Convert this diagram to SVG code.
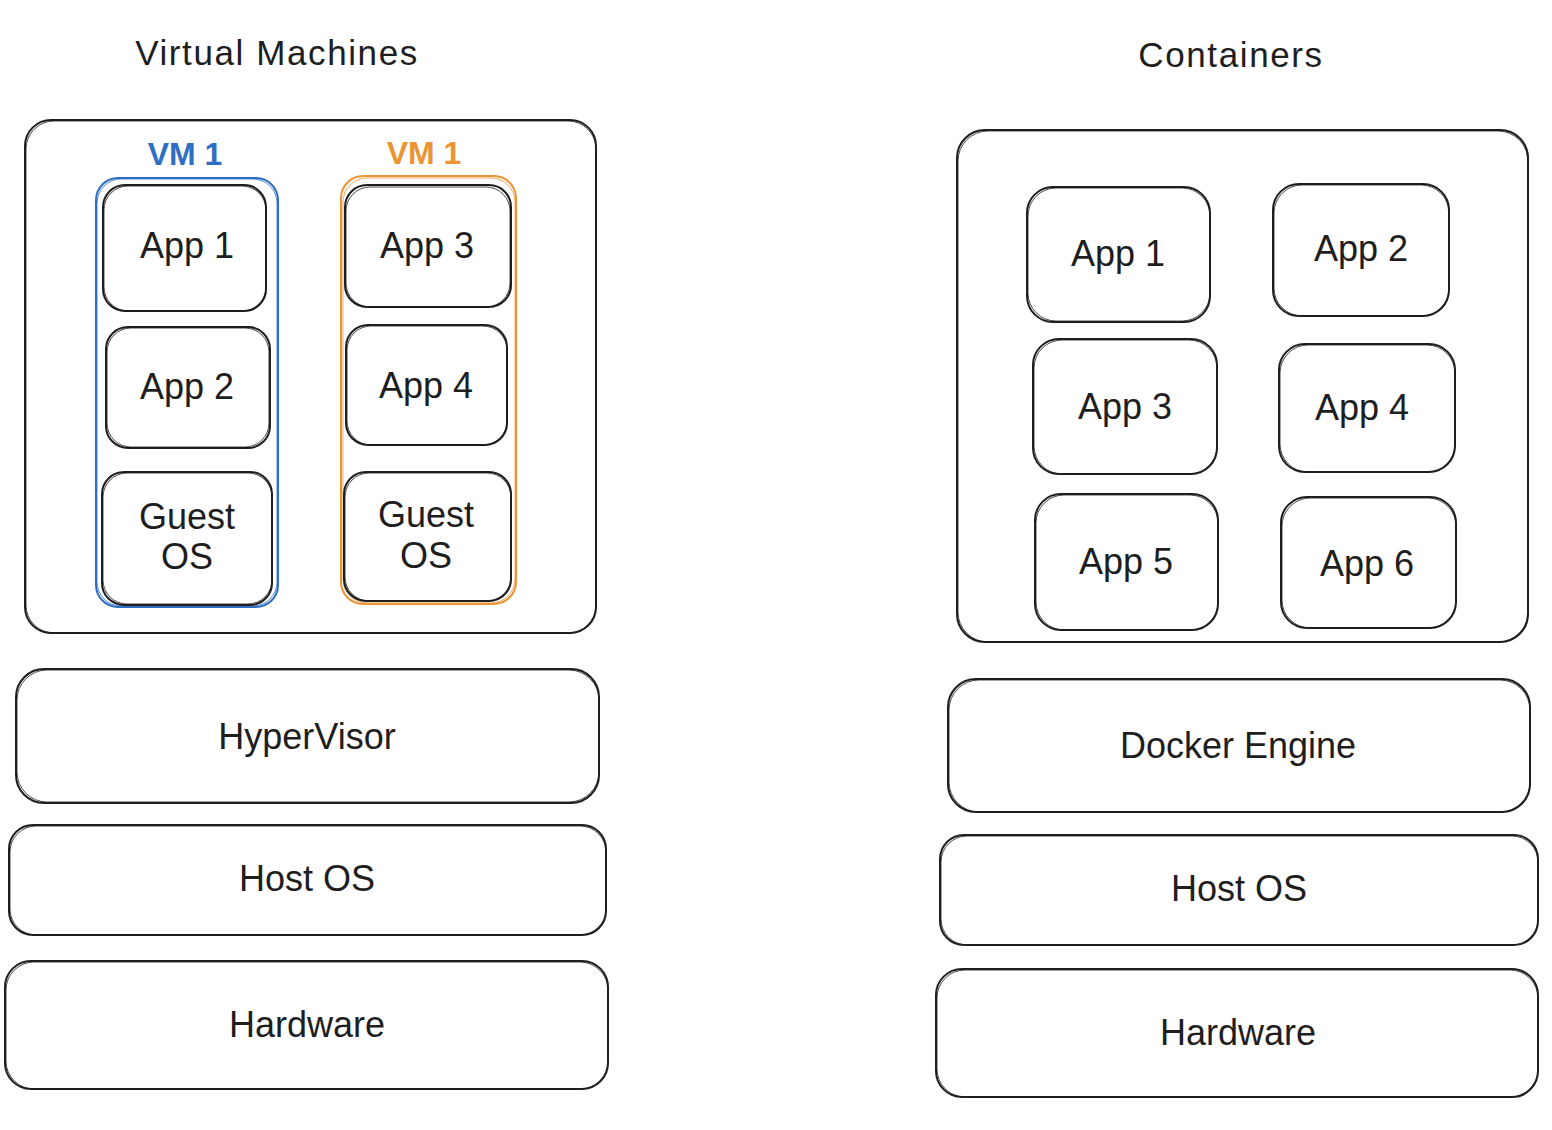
<svg xmlns="http://www.w3.org/2000/svg" width="1552" height="1130" viewBox="0 0 1552 1130">
<style>
.b{fill:none;stroke:#1e1e1e;stroke-width:2;stroke-linejoin:round}
.s{fill:none;stroke:#1e1e1e;stroke-width:1;opacity:.8}
.bl{fill:none;stroke:#2f6fc3;stroke-width:2}
.bls{fill:none;stroke:#2f6fc3;stroke-width:1;opacity:.8}
.or{fill:none;stroke:#ea9434;stroke-width:2}
.ors{fill:none;stroke:#ea9434;stroke-width:1;opacity:.8}
text{font-family:"Liberation Sans",Arial,sans-serif;fill:#1e1e1e;text-anchor:middle;dominant-baseline:central}
.t{font-size:36px}
.h{font-size:35px;letter-spacing:1.6px}
.vb{font-size:32px;fill:#2f6fc3;font-weight:bold}
.vo{font-size:32px;fill:#ea9434;font-weight:bold}
</style>
<rect width="1552" height="1130" fill="#ffffff"/>

<g id="vm-title"><text class="h" x="277" y="52">Virtual Machines</text></g>
<g id="ct-title"><text class="h" x="1231" y="54">Containers</text></g>

<g id="vm-outer"><rect class="b" x="25" y="120" width="571" height="513" rx="26"/><rect class="s" x="26" y="121" width="570" height="512" rx="28"/></g>

<g id="vm1-blue">
<text class="vb" x="185" y="154">VM 1</text>
<rect class="bl" x="96" y="178" width="182" height="429" rx="22"/>
<rect class="bls" x="97" y="179" width="180" height="427" rx="24"/>
</g>
<g id="vm1-orange">
<text class="vo" x="424" y="153">VM 1</text>
<rect class="or" x="341" y="176" width="175" height="428" rx="22"/>
<rect class="ors" x="343" y="178" width="172" height="425" rx="24"/>
</g>

<g id="vm-app1"><rect class="b" x="103" y="185" width="163" height="126" rx="22"/><rect class="s" x="104" y="186" width="162" height="125" rx="24"/><text class="t" x="187" y="245">App 1</text></g>
<g id="vm-app2"><rect class="b" x="106" y="327" width="164" height="121" rx="22"/><rect class="s" x="107" y="328" width="162" height="119" rx="24"/><text class="t" x="187" y="386">App 2</text></g>
<g id="vm-guest1"><rect class="b" x="102" y="472" width="170" height="133" rx="22"/><rect class="s" x="103" y="473" width="169" height="131" rx="24"/><text class="t" x="187" y="516">Guest</text><text class="t" x="187" y="556">OS</text></g>

<g id="vm-app3"><rect class="b" x="345" y="185" width="166" height="122" rx="22"/><rect class="s" x="346" y="187" width="164" height="120" rx="24"/><text class="t" x="427" y="245">App 3</text></g>
<g id="vm-app4"><rect class="b" x="346" y="325" width="161" height="120" rx="22"/><rect class="s" x="347" y="326" width="160" height="119" rx="24"/><text class="t" x="426" y="385">App 4</text></g>
<g id="vm-guest2"><rect class="b" x="344" y="472" width="167" height="129" rx="22"/><rect class="s" x="345" y="473" width="166" height="128" rx="24"/><text class="t" x="426" y="514">Guest</text><text class="t" x="426" y="555">OS</text></g>

<g id="hypervisor"><rect class="b" x="16" y="669" width="583" height="134" rx="28"/><rect class="s" x="17" y="670" width="582" height="132" rx="30"/><text class="t" x="307" y="736">HyperVisor</text></g>
<g id="vm-hostos"><rect class="b" x="9" y="825" width="597" height="110" rx="24"/><rect class="s" x="10" y="826" width="596" height="109" rx="26"/><text class="t" x="307" y="878">Host OS</text></g>
<g id="vm-hardware"><rect class="b" x="5" y="961" width="603" height="128" rx="26"/><rect class="s" x="6" y="962" width="602" height="127" rx="28"/><text class="t" x="307" y="1024">Hardware</text></g>

<g id="ct-outer"><rect class="b" x="957" y="130" width="571" height="512" rx="28"/><rect class="s" x="958" y="131" width="570" height="511" rx="30"/></g>

<g id="ct-app1"><rect class="b" x="1027" y="187" width="183" height="135" rx="26"/><rect class="s" x="1028" y="188" width="182" height="133" rx="28"/><text class="t" x="1118" y="253">App 1</text></g>
<g id="ct-app2"><rect class="b" x="1273" y="184" width="176" height="132" rx="26"/><rect class="s" x="1274" y="185" width="175" height="131" rx="28"/><text class="t" x="1361" y="248">App 2</text></g>
<g id="ct-app3"><rect class="b" x="1033" y="339" width="184" height="135" rx="26"/><rect class="s" x="1034" y="340" width="183" height="134" rx="28"/><text class="t" x="1125" y="406">App 3</text></g>
<g id="ct-app4"><rect class="b" x="1279" y="344" width="176" height="128" rx="26"/><rect class="s" x="1280" y="345" width="175" height="127" rx="28"/><text class="t" x="1362" y="407">App 4</text></g>
<g id="ct-app5"><rect class="b" x="1035" y="494" width="183" height="136" rx="26"/><rect class="s" x="1036" y="495" width="182" height="135" rx="28"/><text class="t" x="1126" y="561">App 5</text></g>
<g id="ct-app6"><rect class="b" x="1281" y="497" width="175" height="131" rx="26"/><rect class="s" x="1282" y="498" width="174" height="130" rx="28"/><text class="t" x="1367" y="563">App 6</text></g>

<g id="docker-engine"><rect class="b" x="948" y="679" width="582" height="133" rx="28"/><rect class="s" x="949" y="680" width="581" height="132" rx="30"/><text class="t" x="1238" y="745">Docker Engine</text></g>
<g id="ct-hostos"><rect class="b" x="940" y="835" width="598" height="110" rx="24"/><rect class="s" x="941" y="836" width="597" height="109" rx="26"/><text class="t" x="1239" y="888">Host OS</text></g>
<g id="ct-hardware"><rect class="b" x="936" y="969" width="602" height="128" rx="26"/><rect class="s" x="937" y="970" width="601" height="127" rx="28"/><text class="t" x="1238" y="1032">Hardware</text></g>

<g id="connectors"></g>
</svg>
